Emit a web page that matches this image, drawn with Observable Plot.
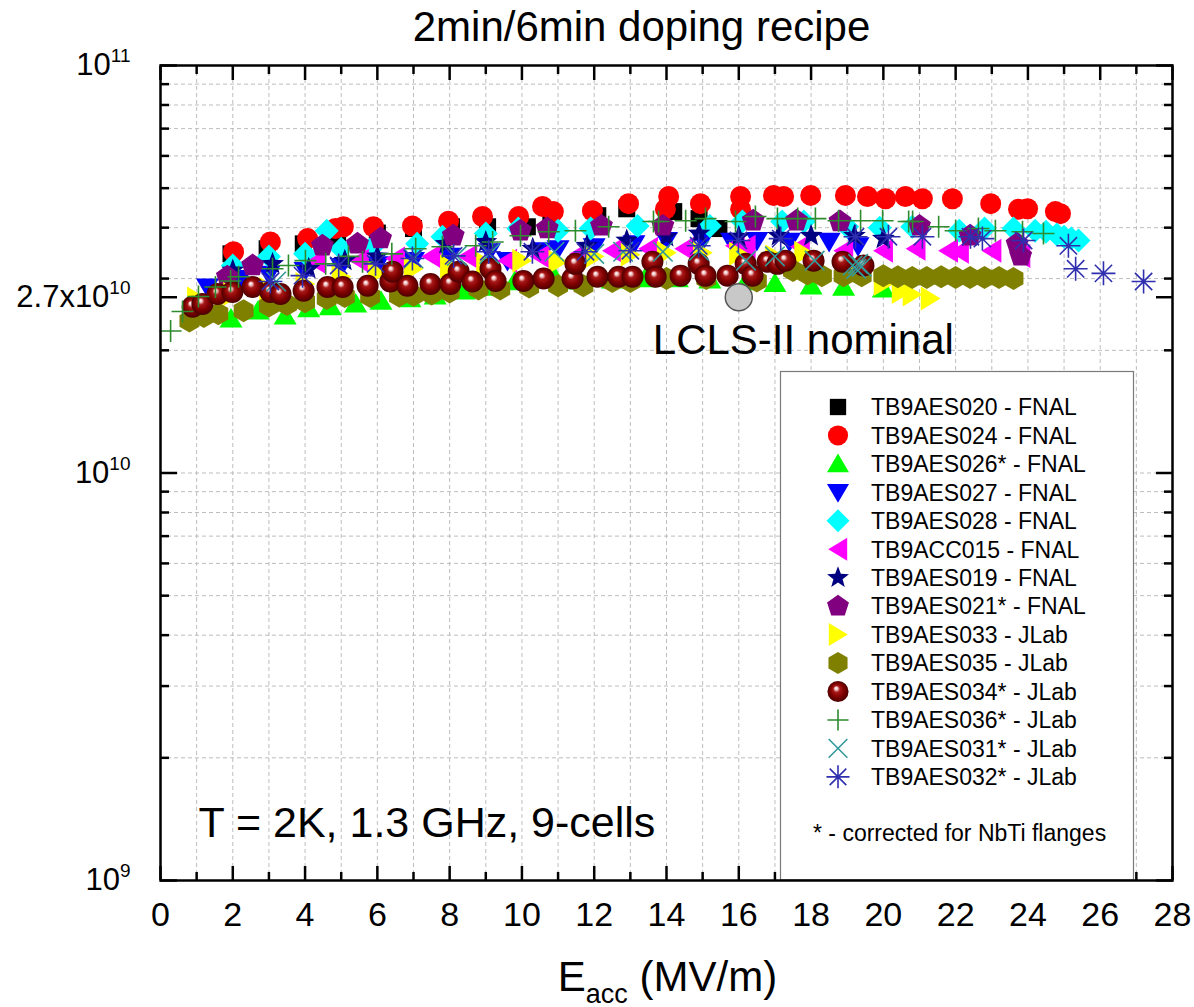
<!DOCTYPE html>
<html>
<head>
<meta charset="utf-8">
<script src="https://cdn.jsdelivr.net/npm/d3@7"></script>
<script src="https://cdn.jsdelivr.net/npm/@observablehq/plot@0.6"></script>
<style>
  body { margin: 0; background: #fff; }
  #chart { width: 1194px; height: 1007px; }
</style>
</head>
<body>
<div id="chart"></div>
<script>
// ---------------- DATA (E_acc in MV/m, Q0 in units of 1e10) ----------------
const seriesNames = [
  "TB9AES020 - FNAL", "TB9AES024 - FNAL", "TB9AES026* - FNAL", "TB9AES027 - FNAL",
  "TB9AES028 - FNAL", "TB9ACC015 - FNAL", "TB9AES019 - FNAL", "TB9AES021* - FNAL",
  "TB9AES033 - JLab", "TB9AES035 - JLab", "TB9AES034* - JLab", "TB9AES036* - JLab",
  "TB9AES031* - JLab", "TB9AES032* - JLab"
];

const aes020 = [[1.95,3.45],[2.95,3.55],[3.95,3.65],[4.9,3.80],[6.0,3.88],[7.0,3.98],[8.05,4.02],[9.05,4.02],[10.15,4.02],[10.8,4.31],[12.1,4.28],[12.9,4.45],[14.2,4.38],[14.9,4.21],[15.45,3.98]];
const aes024 = [[2.02,3.49],[3.04,3.69],[4.07,3.76],[4.84,3.98],[5.06,4.02],[5.89,4.02],[6.97,4.04],[7.97,4.15],[8.91,4.26],[9.91,4.26],[10.57,4.51],[10.87,4.38],[11.95,4.40],[12.95,4.58],[13.97,4.44],[14.06,4.77],[14.94,4.58],[16.05,4.44],[16.05,4.77],[16.96,4.80],[17.24,4.77],[17.99,4.80],[18.95,4.80],[19.56,4.77],[20.06,4.71],[20.61,4.77],[21.08,4.71],[21.91,4.71],[22.97,4.58],[23.74,4.44],[23.99,4.45],[24.76,4.38],[24.9,4.33]];
const aes026 = [[1.95,2.39],[2.7,2.50],[3.45,2.43],[4.1,2.53],[4.7,2.56],[5.4,2.60],[6.1,2.64],[6.9,2.68],[7.6,2.72],[8.4,2.80],[9.1,2.86],[9.8,2.95],[10.9,3.03],[11.6,2.96],[12.5,2.98],[13.4,3.00],[14.3,3.00],[15.2,2.98],[16.2,2.95],[17.0,2.92],[18.0,2.88],[18.9,2.86],[20.0,2.83]];
const aes027 = [[1.3,2.86],[2.2,3.00],[3.0,3.07],[4.0,3.14],[5.0,3.21],[6.0,3.24],[7.0,3.32],[8.0,3.40],[9.1,3.49],[9.6,3.32],[10.6,3.51],[11.0,3.55],[12.0,3.59],[13.1,3.65],[14.0,3.72],[15.0,3.72],[15.8,3.70],[16.5,3.72],[17.4,3.70],[18.5,3.70],[19.3,3.61]];
const aes028 = [[2.0,3.23],[3.0,3.40],[4.0,3.45],[4.6,3.93],[5.0,3.55],[5.9,3.61],[7.1,3.65],[7.8,3.80],[9.0,3.87],[9.9,3.98],[11.0,3.93],[11.9,3.98],[13.2,4.04],[15.2,4.04],[16.1,4.14],[17.2,4.14],[17.8,4.14],[19.0,4.02],[19.9,4.00],[20.8,4.02],[22.1,3.93],[22.8,3.98],[23.6,3.98],[24.2,3.93],[24.5,3.91],[24.8,3.85],[25.0,3.80],[25.2,3.76],[25.4,3.72]];
const acc015 = [[4.3,3.30],[5.5,3.32],[6.5,3.36],[7.5,3.40],[8.5,3.40],[9.6,3.32],[10.5,3.40],[11.6,3.45],[12.5,3.51],[13.5,3.55],[14.5,3.55],[15.9,3.61],[16.2,3.59],[17.7,3.59],[18.9,3.51],[20.0,3.51],[20.9,3.55],[21.8,3.51],[22.1,3.49],[23.0,3.51],[23.8,3.41]];
const aes019 = [[2.0,3.14],[3.1,3.26],[4.1,3.17],[5.1,3.32],[6.0,3.40],[7.9,3.65],[9.0,3.69],[10.3,3.55],[11.8,3.61],[12.9,3.72],[14.0,3.80],[14.9,3.87],[16.0,3.80],[17.1,3.82],[18.0,3.82],[19.2,3.82],[20.0,3.76]];
const aes021 = [[1.85,3.03],[2.55,3.23],[4.48,3.61],[5.45,3.65],[6.09,3.76],[8.1,3.82],[9.96,3.93],[10.7,3.98],[12.2,4.04],[13.9,4.04],[16.4,4.16],[17.6,4.16],[18.8,4.14],[21.0,4.04],[22.4,3.82],[23.7,3.65],[23.8,3.41]];
const aes033 = [[1.0,2.68],[2.0,2.75],[3.0,2.83],[4.0,2.91],[5.0,3.03],[6.0,3.10],[7.0,3.17],[8.0,3.21],[9.0,3.26],[10.0,3.32],[11.0,3.30],[12.0,3.40],[13.0,3.43],[14.0,3.47],[15.0,3.47],[16.0,3.45],[17.0,3.40],[17.8,3.47],[19.0,3.17],[20.0,2.91],[20.5,2.78],[20.8,2.74],[21.3,2.68]];
const aes035 = [[0.8,2.36],[1.2,2.42],[1.6,2.46],[2.3,2.50],[3.0,2.57],[3.5,2.59],[4.0,2.63],[4.6,2.68],[5.1,2.71],[5.8,2.71],[6.6,2.72],[7.0,2.73],[7.5,2.75],[8.0,2.78],[8.8,2.83],[9.4,2.83],[10.2,2.86],[11.0,2.88],[11.7,2.88],[12.5,2.95],[13.0,2.95],[14.0,3.00],[15.1,3.00],[16.5,2.96],[17.5,3.14],[17.9,3.08],[18.3,3.05],[18.9,3.05],[19.4,3.05],[20.0,3.05],[20.4,3.03],[20.8,3.02],[21.2,3.02],[21.6,3.03],[22.0,3.02],[22.4,3.02],[22.8,3.02],[23.2,3.02],[23.6,3.00]];
const aes034 = [[0.89,2.56],[1.16,2.60],[1.58,2.75],[1.99,2.78],[2.55,2.86],[3.04,2.78],[3.32,2.75],[3.96,2.80],[4.62,2.86],[5.04,2.86],[5.73,2.88],[6.36,2.95],[6.42,3.12],[6.83,2.88],[7.47,2.91],[8.02,2.91],[8.25,3.12],[8.63,2.95],[9.13,3.17],[9.27,2.96],[10.04,2.96],[10.6,3.00],[11.4,3.00],[11.48,3.26],[12.09,3.03],[12.67,3.03],[13.06,3.03],[13.61,3.30],[13.70,3.03],[14.39,3.05],[14.89,3.26],[15.08,3.05],[15.69,3.05],[16.19,3.26],[16.38,3.05],[16.8,3.30],[17.07,3.26],[17.29,3.32],[18.07,3.32],[18.87,3.30],[19.45,3.23]];
const aes036 = [[0.28,2.23],[0.61,2.49],[1.05,2.71],[1.52,2.86],[1.94,2.96],[2.16,3.03],[3.10,3.17],[3.54,3.23],[4.01,3.32],[4.57,3.26],[5.20,3.40],[5.59,3.30],[6.4,3.45],[7.06,3.55],[7.80,3.59],[8.72,3.61],[9.19,3.69],[9.96,3.82],[10.74,3.91],[11.48,3.93],[12.40,4.02],[13.64,4.14],[13.78,4.14],[14.53,4.16],[15.08,4.21],[15.91,4.14],[16.46,4.26],[17.07,4.21],[17.63,4.21],[18.12,4.21],[18.76,4.16],[19.37,4.16],[19.98,4.16],[20.70,4.14],[20.81,4.14],[21.53,4.02],[22.0,3.93],[22.63,3.98],[23.1,3.93],[23.85,3.91],[24.43,3.87]];
const aes031 = [[3.2,2.95],[7.0,3.36],[8.2,3.41],[9.1,3.45],[10.9,3.49],[12.0,3.45],[12.8,3.49],[13.9,3.49],[14.9,3.51],[16.2,3.32],[17.0,3.40],[18.1,3.32],[19.15,3.23],[19.25,3.17],[19.3,3.26],[19.4,3.21]];
const aes032 = [[3.04,2.95],[3.93,3.05],[4.93,3.23],[5.95,3.26],[6.97,3.36],[8.11,3.41],[9.08,3.49],[10.29,3.49],[11.76,3.49],[13.0,3.51],[14.89,3.61],[15.99,3.72],[17.16,3.76],[19.23,3.80],[20.14,3.80],[21.08,3.80],[22.41,3.80],[22.74,3.76],[23.88,3.72],[25.12,3.61],[25.32,3.17],[26.09,3.09],[27.2,2.95]];

const nominal = [{e: 16, q: 2.7e10}];

const xMajorTicks = [0, 2, 4, 6, 8, 10, 12, 14, 16, 18, 20, 22, 24, 26, 28];
const xMinorTicks = [1, 3, 5, 7, 9, 11, 13, 15, 17, 19, 21, 23, 25, 27];
const yMajorTicks = [1e9, 1e10, 2.7e10, 1e11];
const yTickLabels = ["10^9", "10^10", "2.7x10^10", "10^11"];
const yMinorTicks = [2e9,3e9,4e9,5e9,6e9,7e9,8e9,9e9,2e10,3e10,4e10,5e10,6e10,7e10,8e10,9e10];
const yGridValues = [2e9,3e9,4e9,5e9,6e9,7e9,8e9,9e9,1e10,2e10,3e10,4e10,5e10,6e10,7e10,8e10,9e10];
const xGridValues = [1,2,3,4,5,6,7,8,9,10,11,12,13,14,15,16,17,18,19,20,21,22,23,24,25,26,27];

const titleText = "2min/6min doping recipe";
const xLabelText = "E_acc (MV/m)";
const condText = "T = 2K, 1.3 GHz, 9-cells";
const nominalText = "LCLS-II nominal";
const footnoteText = "* - corrected for NbTi flanges";

// ---------------- SYMBOLS ----------------
function polySym(pts) {
  return {draw(ctx, size) {
    const r = Math.sqrt(size / Math.PI);
    pts.forEach(([a, b], i) => i ? ctx.lineTo(a * r, b * r) : ctx.moveTo(a * r, b * r));
    ctx.closePath();
  }};
}
function regularPts(n, rot, inner) {
  const m = inner ? 2 * n : n, pts = [];
  for (let k = 0; k < m; k++) {
    const ang = rot + k * 2 * Math.PI / m;
    const rr = inner && (k % 2) ? inner : 1;
    pts.push([rr * Math.cos(ang), rr * Math.sin(ang)]);
  }
  return pts;
}
const symSquare = polySym([[-0.85,-0.85],[0.85,-0.85],[0.85,0.85],[-0.85,0.85]]);
const symCircle = {draw(ctx, size) { const r = Math.sqrt(size / Math.PI); ctx.moveTo(r, 0); ctx.arc(0, 0, r, 0, 2 * Math.PI); }};
const symTriUp = polySym([[0,-0.95],[1,0.75],[-1,0.75]]);
const symTriDown = polySym([[0,0.95],[1,-0.75],[-1,-0.75]]);
const symDiamond = polySym([[0,-1],[1,0],[0,1],[-1,0]]);
const symTriLeft = polySym([[-0.85,0],[0.8,-1],[0.8,1]]);
const symTriRight = polySym([[0.85,0],[-0.8,-1],[-0.8,1]]);
const symStar = polySym(regularPts(5, -Math.PI / 2, 0.42));
const symPent = polySym(regularPts(5, -Math.PI / 2));
const symHex = polySym(regularPts(6, -Math.PI / 2));
const symPlus = {draw(ctx, size) { const r = Math.sqrt(size / Math.PI); ctx.moveTo(-r, 0); ctx.lineTo(r, 0); ctx.moveTo(0, -r); ctx.lineTo(0, r); }};
const symTimes = {draw(ctx, size) { const a = 0.75 * Math.sqrt(size / Math.PI); ctx.moveTo(-a, -a); ctx.lineTo(a, a); ctx.moveTo(-a, a); ctx.lineTo(a, -a); }};
const symAster = {draw(ctx, size) {
  const r = Math.sqrt(size / Math.PI), a = 0.72 * r;
  ctx.moveTo(-r, 0); ctx.lineTo(r, 0); ctx.moveTo(0, -r); ctx.lineTo(0, r);
  ctx.moveTo(-a, -a); ctx.lineTo(a, a); ctx.moveTo(-a, a); ctx.lineTo(a, -a);
}};

const seriesData = [aes020, aes024, aes026, aes027, aes028, acc015, aes019, aes021, aes033, aes035, aes034, aes036, aes031, aes032];
const seriesStyle = [
  {symbol: symSquare,   r: 10,   fill: "#000000", stroke: "none"},
  {symbol: symCircle,   r: 10.5, fill: "#ff0000", stroke: "none"},
  {symbol: symTriUp,    r: 11.5, fill: "#00ff00", stroke: "none"},
  {symbol: symTriDown,  r: 11.5, fill: "#0000ff", stroke: "none"},
  {symbol: symDiamond,  r: 12,   fill: "#00ffff", stroke: "none"},
  {symbol: symTriLeft,  r: 12,   fill: "#ff00ff", stroke: "none"},
  {symbol: symStar,     r: 12,   fill: "#000080", stroke: "none"},
  {symbol: symPent,     r: 12,   fill: "#800080", stroke: "none"},
  {symbol: symTriRight, r: 12,   fill: "#ffff00", stroke: "none"},
  {symbol: symHex,      r: 11.5, fill: "#808000", stroke: "none"},
  {symbol: symCircle,   r: 11,   fill: "url(#ball)", stroke: "none"},
  {symbol: symPlus,     r: 11,   fill: "none", stroke: "#2e8b2e", sw: 1.6},
  {symbol: symTimes,    r: 13,   fill: "none", stroke: "#339999", sw: 1.6},
  {symbol: symAster,    r: 12,   fill: "none", stroke: "#2f2fb0", sw: 1.6}
];

// ---------------- MARKS ----------------
function defsMark() {
  const defs = d3.create("svg:defs");
  const g = defs.append("radialGradient").attr("id", "ball")
    .attr("cx", 0.5).attr("cy", 0.5).attr("r", 0.5).attr("fx", 0.4).attr("fy", 0.33);
  [[0, "#ffffff"], [0.14, "#f2c8c8"], [0.32, "#a81818"], [0.65, "#800000"], [1, "#4a0000"]]
    .forEach(([o, c]) => g.append("stop").attr("offset", o).attr("stop-color", c));
  return defs.node();
}

function legendMark(index, scales, values, dims) {
  const g = d3.create("svg:g").attr("text-anchor", "start");
  const bottom = dims.height - dims.marginBottom;
  const left = 780, right = 1133, top = 371;
  g.append("rect").attr("x", left + 0.5).attr("y", top + 0.5)
    .attr("width", right - left).attr("height", bottom - top - 0.5)
    .attr("fill", "white").attr("stroke", "#7a7a7a").attr("stroke-width", 1.2);
  seriesNames.forEach((name, i) => {
    const s = seriesStyle[i], cy = 407 + i * 28.45;
    g.append("path").attr("transform", `translate(838,${cy})`)
      .attr("d", d3.symbol(s.symbol, Math.PI * s.r * s.r * 0.92)())
      .attr("fill", s.fill).attr("stroke", s.stroke).attr("stroke-width", s.sw || null);
    g.append("text").attr("x", 871).attr("y", cy).attr("dy", "0.36em")
      .attr("text-anchor", "start")
      .attr("font-size", 23).attr("fill", "black").text(name);
  });
  g.append("text").attr("x", 813).attr("y", 833).attr("dy", "0.36em")
    .attr("text-anchor", "start")
    .attr("font-size", 23).attr("fill", "black").text(footnoteText);
  return g.node();
}

const dotMarks = seriesData.map((arr, i) => {
  const s = seriesStyle[i];
  return Plot.dot(arr.map(([e, q]) => ({e, q: q * 1e10})), {
    x: "e", y: "q", symbol: s.symbol, r: s.r, fill: s.fill, stroke: s.stroke,
    strokeWidth: s.sw || 1
  });
});

const tickStyle = {stroke: "black", strokeWidth: 2.5, tickFormat: () => "", label: null};
const yLabelMap = new Map(yMajorTicks.map((v, i) => [v, yTickLabels[i]]));

const svg = Plot.plot({
  width: 1194, height: 1007,
  marginLeft: 160, marginRight: 22, marginTop: 65, marginBottom: 127,
  style: {fontFamily: '"Liberation Sans", Arial, Helvetica, sans-serif', background: "white", overflow: "visible"},
  x: {domain: [0, 28], axis: null},
  y: {type: "log", domain: [1e9, 1e11], axis: null},
  marks: [
    defsMark,
    Plot.gridX(xGridValues, {stroke: "#bdbdbd", strokeOpacity: 1, strokeWidth: 1, strokeDasharray: "4,3"}),
    Plot.gridY(yGridValues, {stroke: "#bdbdbd", strokeOpacity: 1, strokeWidth: 1, strokeDasharray: "4,3"}),
    ...dotMarks,
    Plot.dot(nominal, {x: "e", y: "q", r: 13.5, fill: "#c8c8c8", stroke: "#555555", strokeWidth: 1.5}),
    Plot.text(nominal, {x: "e", y: "q", text: () => nominalText, dx: -86, dy: 57, textAnchor: "start", lineAnchor: "bottom", fontSize: 42, fill: "black"}),
    Plot.text([condText], {text: d => d, frameAnchor: "bottom-left", dx: 38, dy: -44, textAnchor: "start", lineAnchor: "bottom", fontSize: 43, fill: "black"}),
    // inward ticks
    Plot.axisX(xMajorTicks, {anchor: "bottom", tickSize: -14, ...tickStyle}),
    Plot.axisX(xMinorTicks, {anchor: "bottom", tickSize: -8, ...tickStyle}),
    Plot.axisX(xMajorTicks, {anchor: "top", tickSize: -14, ...tickStyle}),
    Plot.axisX(xMinorTicks, {anchor: "top", tickSize: -8, ...tickStyle}),
    Plot.axisY(yMajorTicks, {anchor: "left", tickSize: -17, ...tickStyle}),
    Plot.axisY(yMinorTicks, {anchor: "left", tickSize: -9, ...tickStyle}),
    Plot.axisY(yMajorTicks, {anchor: "right", tickSize: -17, ...tickStyle}),
    Plot.axisY(yMinorTicks, {anchor: "right", tickSize: -9, ...tickStyle}),
    legendMark,
    Plot.frame({stroke: "black", strokeWidth: 2.5}),
    // tick labels
    Plot.axisX(xMajorTicks, {anchor: "bottom", tickSize: 0, tickPadding: 21, fontSize: 34, tickFormat: d => String(d), label: null}),
    Plot.axisY(yMajorTicks, {anchor: "left", tickSize: 0, tickPadding: 30, fontSize: 31, tickFormat: d => yLabelMap.get(d), label: null}),
    Plot.text([titleText], {text: d => d, frameAnchor: "top", dx: -25, dy: -25, lineAnchor: "bottom", fontSize: 42, fill: "black"}),
    Plot.text([xLabelText], {text: d => d, frameAnchor: "bottom", dx: 1, dy: 110, lineAnchor: "bottom", fontSize: 42, fill: "black"})
  ]
});

// superscripts / subscripts
const NS = "http://www.w3.org/2000/svg";
svg.querySelectorAll("text").forEach(t => {
  const s = t.textContent;
  if (s.includes("^")) {
    const [b, e] = s.split("^");
    t.textContent = b;
    const ts = document.createElementNS(NS, "tspan");
    ts.setAttribute("font-size", "19");
    ts.setAttribute("dy", "-13");
    ts.textContent = e;
    t.appendChild(ts);
  } else if (s.includes("_")) {
    const m = s.match(/^(\w)_(\w+)(.*)$/);
    t.textContent = m[1];
    const sub = document.createElementNS(NS, "tspan");
    sub.setAttribute("font-size", "27");
    sub.setAttribute("dy", "12");
    sub.textContent = m[2];
    const rest = document.createElementNS(NS, "tspan");
    rest.setAttribute("dy", "-12");
    rest.textContent = m[3];
    t.appendChild(sub);
    t.appendChild(rest);
  }
});

document.getElementById("chart").appendChild(svg);
</script>
</body>
</html>
